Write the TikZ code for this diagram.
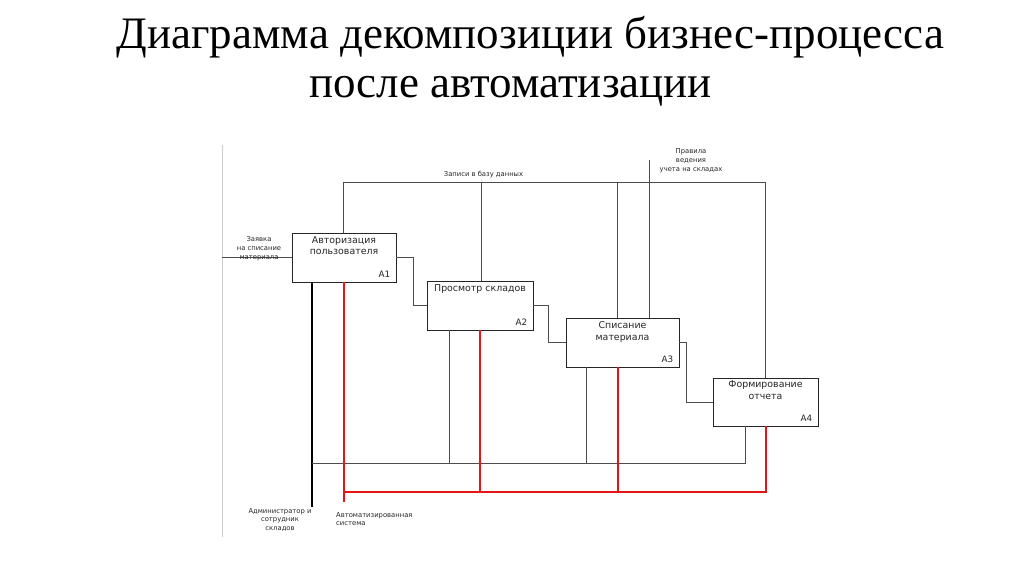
\documentclass[tikz,border=0pt]{standalone}
\usepackage{fontspec}
\setmainfont{Liberation Serif}
\newfontfamily\diagfont{DejaVu Sans}
\definecolor{mechred}{RGB}{230,20,20}
\begin{document}
\begin{tikzpicture}[x=1pt,y=-1pt,
  box/.style={draw=black!85, line width=0.9pt, inner sep=0pt, fill=white},
  flowline/.style={draw=black!70, line width=0.8pt},
  redline/.style={draw=mechred, line width=1.1pt},
  lbl/.style={font=\diagfont\fontsize{6.8}{8.6}\selectfont, text=black!85, align=center, inner sep=0pt},
  ttl/.style={font=\diagfont\fontsize{9.4}{11.5}\selectfont, text=black!85, align=center, inner sep=0pt, anchor=north},
  num/.style={font=\diagfont\fontsize{8.8}{10}\selectfont, text=black!85, inner sep=0pt, anchor=south east},
  head/.style={font=\fontsize{45}{50}\selectfont, inner sep=0pt, anchor=base}
]
\useasboundingbox (0,0) rectangle (1024,574);
% title
\node[head] (t1) at (530.5,48) {Диаграмма декомпозиции бизнес-процесса};
\node[head] (t2) at (510.5,97) {после автоматизации};
% faint frame line
\coordinate (fa) at (222,145);
\coordinate (fb) at (222,537);
\draw[black!20, line width=0.5pt] (fa) -- (fb);
% boxes
\node[box, minimum width=104pt, minimum height=49pt] (A1) at (344,257.5) {};
\node[box, minimum width=106pt, minimum height=49pt] (A2) at (480,305.5) {};
\node[box, minimum width=113pt, minimum height=49pt] (A3) at (622.5,342.5) {};
\node[box, minimum width=105pt, minimum height=48pt] (A4) at (765.5,402) {};
% control coordinates
\coordinate (c1) at (343,182);
\coordinate (c2) at (481,182);
\coordinate (c3) at (617,182);
\coordinate (c4) at (765,182);
\coordinate (r) at (649,160);
\coordinate (in) at (222,257.5);
% mechanisms
\coordinate (adm) at (312,507);
\coordinate (bus) at (745,463);
\coordinate (m2) at (449,463);
\coordinate (m3) at (586,463);
\coordinate (sys) at (344,502);
\coordinate (rb) at (766,492);
\coordinate (r2) at (480,492);
\coordinate (r3) at (618,492);
% controls
\draw[flowline] (A1.north -| c1) -- (c1) -- (c4) -- (A4.north -| c4);
\draw[flowline] (c2) -- (A2.north -| c2);
\draw[flowline] (c3) -- (A3.north -| c3);
\draw[flowline] (r) -- (A3.north -| r);
% input
\draw[flowline] (in) -- (A1.west);
% outputs
\draw[flowline] (A1.east) -- ++(17,0) |- (A2.west);
\draw[flowline] (A2.east) -- ++(15,0) |- (A3.west);
\draw[flowline] (A3.east) -- ++(7,0) |- (A4.west);
% black mechanisms
\draw[draw=black, line width=1.1pt] (A1.south -| adm) -- (adm);
\draw[flowline] (adm |- bus) -- (bus) -- (A4.south -| bus);
\draw[flowline] (A2.south -| m2) -- (m2);
\draw[flowline] (A3.south -| m3) -- (m3);
% red mechanisms
\draw[redline] (A1.south -| sys) -- (sys);
\draw[redline] (sys |- rb) -- (rb) -- (A4.south -| rb);
\draw[redline] (A2.south -| r2) -- (r2);
\draw[redline] (A3.south -| r3) -- (r3);
% box texts
\node[ttl] (A1t) at ([yshift=-3.5pt]A1.north) {Авторизация\\пользователя};
\node[num] (A1n) at ([xshift=-6pt,yshift=5pt]A1.south east) {A1};
\node[ttl] (A2t) at ([yshift=-4pt]A2.north) {Просмотр складов};
\node[num] (A2n) at ([xshift=-6pt,yshift=5pt]A2.south east) {A2};
\node[ttl] (A3t) at ([yshift=-4pt]A3.north) {Списание\\материала};
\node[num] (A3n) at ([xshift=-6pt,yshift=5pt]A3.south east) {A3};
\node[ttl] (A4t) at ([yshift=-3pt]A4.north) {Формирование\\отчета};
\node[num] (A4n) at ([xshift=-6pt,yshift=5pt]A4.south east) {A4};
% arrow labels
\node[lbl, anchor=base] (l1) at (483.5,176) {Записи в базу данных};
\node[lbl, anchor=base] (l2) at (691,171) {Правила\\ведения\\учета на складах};
\node[lbl, anchor=base] (l3) at (259,259) {Заявка\\на списание\\материала};
\node[lbl, anchor=north] (l4) at (280,508) {Администратор и\\сотрудник\\складов};
\node[lbl, anchor=north west, align=left] (l5) at (336,512) {Автоматизированная\\система};
\end{tikzpicture}
\end{document}
